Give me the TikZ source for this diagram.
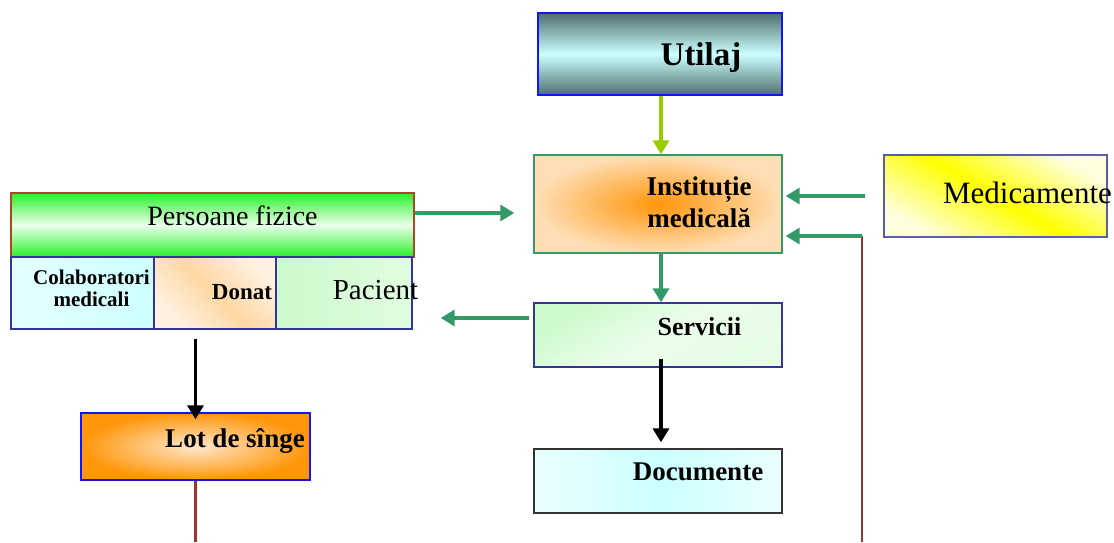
\documentclass[tikz,border=0pt]{standalone}
\usepackage{xcolor}
\usepackage{fontspec}
\setmainfont{Liberation Serif}
\usepackage{tikz}
\usetikzlibrary{arrows.meta}

\definecolor{utdark}{RGB}{78,110,110}
\definecolor{ucyan}{RGB}{204,255,255}
\definecolor{ublue}{RGB}{20,20,245}
\definecolor{peach}{RGB}{255,222,182}
\definecolor{orng}{RGB}{255,150,10}
\definecolor{mgreen}{RGB}{51,153,102}
\definecolor{ygreen}{RGB}{153,204,0}
\definecolor{redl}{RGB}{160,50,50}
\definecolor{pgreen}{RGB}{40,240,40}
\definecolor{pbrown}{RGB}{175,70,35}
\definecolor{navy}{RGB}{51,51,153}
\definecolor{lgreen}{RGB}{204,250,204}

\begin{document}
\begin{tikzpicture}[x=1pt,y=-1pt]
\tikzset{box/.style={draw,line width=1.4pt,inner sep=0pt},
  garrow/.style={draw=mgreen,line width=3.4pt,-{Triangle[length=14pt,width=16pt]}},
  barrow/.style={draw=black,line width=3.4pt,-{Triangle[length=14pt,width=16pt]}},
  redline/.style={draw=redl,line width=2.2pt}}
\useasboundingbox (0,0) rectangle (1114,542);

\node[box,draw=ublue,line width=2.2pt,top color=utdark,bottom color=utdark,middle color=ucyan,minimum width=244pt,minimum height=82pt,
  label={[xshift=41pt,yshift=-4pt,font=\fontsize{33}{36}\selectfont\bfseries]center:Utilaj}] (utilaj) at (660,54) {};
\node[box,draw=mgreen,shading=radial,inner color=orng,outer color=peach,minimum width=248pt,minimum height=98pt,
  label={[xshift=41pt,yshift=2pt,align=center,font=\fontsize{27}{32}\selectfont\bfseries]center:Instituție\\medicală}] (inst) at (658,204) {};
\node[box,draw=navy!80,top color=yellow!12,bottom color=yellow!12,middle color=yellow,shading angle=-30,minimum width=223pt,minimum height=82pt,
  label={[xshift=32pt,yshift=3pt,font=\fontsize{31}{34}\selectfont]center:Medicamente}] (med) at (995.5,196) {};
\node[box,draw=pbrown,top color=pgreen,bottom color=pgreen,middle color=green!8!white,minimum width=403pt,minimum height=64pt,
  label={[xshift=20pt,yshift=9pt,font=\fontsize{28}{31}\selectfont]center:Persoane fizice}] (pers) at (212.5,225) {};
\node[box,draw=navy,left color=ucyan!50!white,right color=ucyan,minimum width=143pt,minimum height=72pt,
  label={[xshift=9pt,yshift=5pt,align=center,font=\fontsize{21}{22}\selectfont\bfseries]center:Colaboratori\\medicali}] (colab) at (82.5,293) {};
\node[box,draw=navy,top color=peach!40!white,bottom color=peach!40!white,middle color=peach!90!orng,shading angle=-45,minimum width=122pt,minimum height=72pt,
  label={[xshift=27pt,yshift=1pt,font=\fontsize{23}{25}\selectfont\bfseries]center:Donat}] (donat) at (215,293) {};
\node[box,draw=navy,left color=lgreen,right color=lgreen!60!white,minimum width=136pt,minimum height=72pt,
  label={[xshift=31.5pt,yshift=3pt,font=\fontsize{29}{31}\selectfont]center:Pacient}] (pac) at (344,293) {};
\node[box,draw=navy,top color=lgreen,bottom color=lgreen!50!white,middle color=lgreen!40!white,shading angle=30,minimum width=248pt,minimum height=64pt,
  label={[xshift=41.5pt,yshift=8pt,font=\fontsize{26}{28}\selectfont\bfseries]center:Servicii}] (serv) at (658,335) {};
\node[box,draw=black!80,left color=ucyan!40!white,right color=ucyan!40!white,middle color=ucyan,minimum width=248pt,minimum height=64pt,
  label={[xshift=40pt,yshift=9pt,font=\fontsize{27}{29}\selectfont\bfseries]center:Documente}] (doc) at (658,481) {};
\node[box,draw=ublue,shading=radial,inner color=peach!70!white,outer color=orng,minimum width=229pt,minimum height=67pt,
  label={[xshift=39.5pt,yshift=5.5pt,font=\fontsize{27}{29}\selectfont\bfseries]center:Lot de sînge}] (lot) at (195.5,446.5) {};

\coordinate (rbot) at (862,542);
\coordinate (rturn) at (862,236);
\coordinate (lbot) at (195.5,542);

\draw[garrow,draw=ygreen] ([xshift=1pt]utilaj.south) -- ([xshift=1pt]utilaj.south |- inst.north);
\draw[garrow,shorten >=19pt] ([yshift=12pt]pers.east) -- ([yshift=12pt]pers.east -| inst.west);
\draw[garrow,shorten <=18pt,shorten >=3pt] (med.west) -- (med.west -| inst.east);
\draw[redline] (rbot) -- (rturn);
\draw[garrow,shorten >=3pt] (rturn) -- (rturn -| inst.east);
\draw[garrow] ([xshift=3pt]inst.south) -- ([xshift=3pt]serv.north);
\draw[garrow,shorten <=4pt,shorten >=28pt] ([yshift=17pt]serv.west) -- ([yshift=17pt]serv.west -| pac.east);
\draw[barrow,shorten <=9pt,shorten >=-7pt] (donat.south -| lot.north) -- (lot.north);
\draw[barrow,shorten <=-9pt,shorten >=6pt] ([xshift=3pt]serv.south) -- ([xshift=3pt]doc.north);
\draw[redline] (lot.south) -- (lbot);
\end{tikzpicture}
\end{document}
